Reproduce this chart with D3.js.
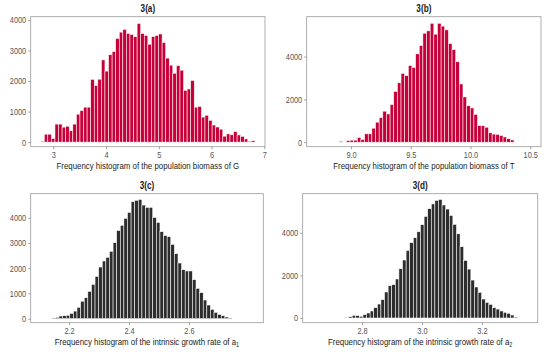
<!DOCTYPE html>
<html>
<head>
<meta charset="utf-8">
<script src="https://cdn.jsdelivr.net/npm/d3@7"></script>
<style>
  body { margin: 0; background: #fff; }
  svg { display: block; }
  text { font-family: "Liberation Sans", Arial, sans-serif; }
</style>
</head>
<body>
<svg id="chart" width="553" height="354"></svg>
<script>
// bin counts left to right
const countsA = [30, 260, 260, 120, 590, 590, 490, 520, 370, 590, 915, 1030, 1145, 1145, 2055, 1855,
  2060, 2690, 2325, 2860, 2965, 3395, 3600, 3690, 3560, 3525, 3450, 3885, 3555, 3495, 3205,
  3455, 3490, 3540, 3260, 2750, 2520, 2255, 2500, 2355, 1695, 1740, 2020, 1145, 1170, 820,
  880, 715, 560, 495, 425, 195, 270, 240, 345, 235, 190, 105, 30, 50];
const countsB = [45, 0, 80, 95, 95, 225, 130, 390, 390, 655, 935, 1150, 1450, 1320, 1760, 2375,
  2775, 3215, 3110, 3580, 3485, 4125, 4515, 5090, 5200, 5555, 5045, 5555, 5420, 5245, 4610,
  4330, 3755, 2720, 2115, 1700, 1600, 1300, 770, 770, 700, 440, 380, 365, 315, 245, 160, 105];
const countsC = [25, 55, 105, 120, 135, 210, 300, 450, 690, 830, 1080, 1360, 1675, 2045, 2285,
  2430, 2670, 3010, 3490, 3700, 3975, 4210, 4635, 4690, 4725, 4500, 4410, 4410, 4010, 3815,
  3445, 3290, 3250, 2945, 2575, 2205, 1940, 1890, 1890, 1545, 1200, 1030, 740, 540, 370, 250,
  170, 120, 65, 25];
const countsD = [30, 60, 125, 110, 80, 155, 235, 330, 485, 655, 860, 1220, 1515, 1560, 1830, 2310,
  2720, 3170, 3530, 3765, 4045, 4375, 4765, 5125, 5350, 5515, 5560, 5300, 5110, 4810, 4390,
  3950, 3345, 2700, 2295, 1780, 1455, 1205, 890, 735, 640, 485, 420, 330, 265, 220, 140, 45];

// left edge of the first bin and the bin width, in data units
const binStart = [2.761, 8.900, 2.1423, 2.743];
const binWidth = [0.0677, 0.0305, 0.01203, 0.012];

const xTicksA = [3, 4, 5, 6, 7];
const xTicksB = [9.0, 9.5, 10.0, 10.5];
const xTicksC = [2.2, 2.4, 2.6];
const xTicksD = [2.8, 3.0, 3.2];
const yTicksA = [0, 1000, 2000, 3000, 4000];
const yTicksB = [0, 2000, 4000];
const yTicksC = [0, 1000, 2000, 3000, 4000];
const yTicksD = [0, 2000, 4000];

const titles = ['3(a)', '3(b)', '3(c)', '3(d)'];
const xLabels = [
  ['Frequency histogram of the population biomass of G'],
  ['Frequency histogram of the population biomass of T'],
  ['Frequency histogram of the intrinsic growth rate of a', '1'],
  ['Frequency histogram of the intrinsic growth rate of a', '2']
];

const red = '#c8003a';
const dark = '#2d2d2d';
const squeeze = 0.82; // the figure uses a narrow sans face

const panels = [
  { counts: countsA, xt: xTicksA, yt: yTicksA, fmt: d3.format('d'),
    box: [30.7, 265, 16.7, 146.7], xd: [2.572, 7.013], yd: [-150, 4105], fill: red },
  { counts: countsB, xt: xTicksB, yt: yTicksB, fmt: d3.format('.1f'),
    box: [306.7, 541, 16.7, 146.7], xd: [8.629, 10.590], yd: [-210, 5860], fill: red },
  { counts: countsC, xt: xTicksC, yt: yTicksC, fmt: d3.format('.1f'),
    box: [30.7, 263.3, 193.7, 322.7], xd: [2.072, 2.848], yd: [-160, 4950], fill: dark },
  { counts: countsD, xt: xTicksD, yt: yTicksD, fmt: d3.format('.1f'),
    box: [302.7, 537.7, 193.7, 322.7], xd: [2.602, 3.386], yd: [-220, 5830], fill: dark }
];

const svg = d3.select('#chart');

function narrow(sel) {
  sel.each(function () {
    const w = this.getComputedTextLength();
    d3.select(this).attr('textLength', w * squeeze).attr('lengthAdjust', 'spacingAndGlyphs');
  });
}

panels.forEach((p, i) => {
  const [l, r, t, b] = p.box;
  const g = svg.append('g');

  const x = d3.scaleLinear().domain(p.xd).range([l, r]);
  const y = d3.scaleLinear().domain(p.yd).range([b, t]);

  const bins = p.counts.map((c, k) => ({
    x0: binStart[i] + k * binWidth[i],
    x1: binStart[i] + (k + 1) * binWidth[i],
    n: c
  }));

  g.append('g')
    .selectAll('rect').data(bins.filter(d => d.n > 0)).enter().append('rect')
    .attr('x', d => x(d.x0))
    .attr('y', d => y(d.n))
    .attr('width', d => x(d.x1) - x(d.x0))
    .attr('height', d => y(0) - y(d.n))
    .attr('fill', p.fill)
    .attr('stroke', '#fff')
    .attr('stroke-width', 0.55);

  g.append('rect')
    .attr('x', l).attr('y', t)
    .attr('width', r - l).attr('height', b - t)
    .attr('fill', 'none')
    .attr('stroke', '#9a9a9a')
    .attr('stroke-width', 0.8);

  const xAxis = g.append('g')
    .attr('transform', `translate(0,${b})`)
    .call(d3.axisBottom(x).tickValues(p.xt).tickFormat(p.fmt).tickSize(2.5).tickPadding(2));
  const yAxis = g.append('g')
    .attr('transform', `translate(${l},0)`)
    .call(d3.axisLeft(y).tickValues(p.yt).tickFormat(d3.format('d')).tickSize(2.5).tickPadding(2));

  [xAxis, yAxis].forEach(ax => {
    ax.select('.domain').remove();
    ax.selectAll('line').attr('stroke', '#8a8a8a').attr('stroke-width', 0.8);
    ax.selectAll('text').attr('fill', '#555').style('font-size', '9px')
      .style('font-family', '"Liberation Sans", Arial, sans-serif')
      .call(narrow);
  });

  g.append('text')
    .attr('transform', `translate(${(l + r) / 2},${t - 4.3}) scale(${squeeze},1)`)
    .attr('text-anchor', 'middle')
    .attr('font-size', 10)
    .attr('font-weight', 'bold')
    .attr('fill', '#1a1a1a')
    .text(titles[i]);

  const lab = g.append('text')
    .attr('transform', `translate(${(l + r) / 2},${b + 22}) scale(${squeeze},1)`)
    .attr('text-anchor', 'middle')
    .attr('font-size', 9.6)
    .attr('fill', '#1a1a1a');
  lab.append('tspan').text(xLabels[i][0]);
  if (xLabels[i][1]) {
    lab.append('tspan').attr('dy', 2.2).attr('font-size', 6.8).text(xLabels[i][1]);
  }
});
</script>
</body>
</html>
